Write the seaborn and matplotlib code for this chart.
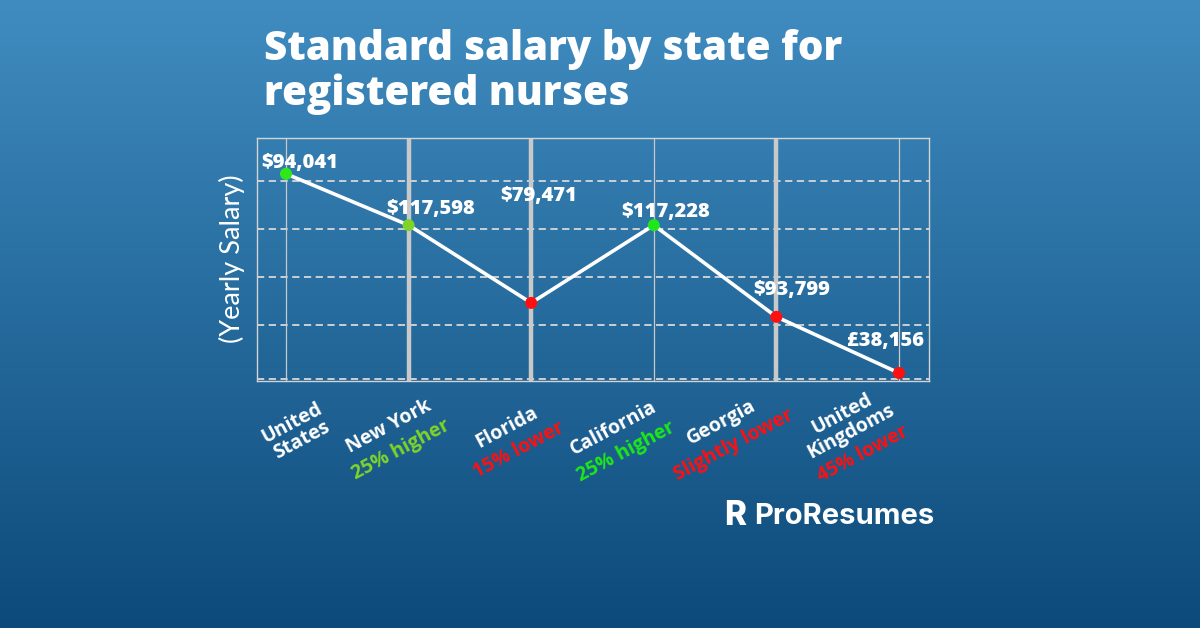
import matplotlib
matplotlib.use("Agg")
import matplotlib.pyplot as plt
import numpy as np
import pandas as pd
import seaborn as sns

# data
states = ["United States", "New York", "Florida", "California", "Georgia", "United Kingdom"]
tick_names = ["United\nStates", "New York", "Florida", "California", "Georgia", "United\nKingdoms"]
tick_notes = ["", "25% higher", "15% lower", "25% higher", "Slightly lower", "45% lower"]
salary_labels = ["$94,041", "$117,598", "$79,471", "$117,228", "$93,799", "£38,156"]
plot_level = [4.15, 3.08, 1.46, 3.08, 1.17, 0.0]   # vertical position of each point as drawn
trend = ["base", "higher_ny", "lower", "higher", "lower", "lower"]

palette = {"base": "#2ee81a", "higher_ny": "#7fd42a", "higher": "#1ee81a", "lower": "#ff1010"}
note_colors = ["white", "#7fd42a", "#ff1010", "#1ee81a", "#ff1010", "#ff1010"]

df = pd.DataFrame({"x": range(len(states)), "level": plot_level, "trend": trend})

sns.set_style("white")
plt.rcParams["font.family"] = ["Open Sans", "DejaVu Sans"]

W, H = 1200, 628
fig = plt.figure(figsize=(W / 100, H / 100), dpi=100)

# gradient background
bg = fig.add_axes([0, 0, 1, 1], zorder=-10)
top = np.array([64, 140, 192]) / 255
bot = np.array([12, 74, 122]) / 255
t = np.linspace(0, 1, 256)[:, None]
grad = top * (1 - t) + bot * t
bg.imshow(grad[:, None, :].repeat(2, axis=1), aspect="auto", extent=[0, 1, 0, 1])
bg.set_axis_off()

# main plot area (pixel box 257..929 x 138..381)
ax = fig.add_axes([257 / W, 1 - 381 / H, (929 - 257) / W, (381 - 138) / H])
ax.patch.set_alpha(0)
ax.set_xlim(-0.2365, 5.245)
ax.set_ylim(-0.167, 4.896)

for s in ax.spines.values():
    s.set_color("#d4d4d4")
    s.set_linewidth(1.0)

grid_kw = dict(color="#d8d8d8", linewidth=1.3, linestyle=(0, (4, 2.5)), zorder=1)
for g in [1, 2, 3, 4, -0.135]:
    ax.axhline(g, **grid_kw)

thick = [False, True, True, False, True, False]
for i, th in enumerate(thick):
    ax.axvline(i, color="#c9c9c9", linewidth=3.2 if th else 0.9, zorder=1)

sns.lineplot(data=df, x="x", y="level", color="white", linewidth=2.6, ax=ax, zorder=3)
sns.scatterplot(data=df, x="x", y="level", hue="trend", palette=palette, s=75,
                edgecolor="none", legend=False, ax=ax, zorder=4)

ax.set_xticks([])
ax.set_yticks([])
ax.set_xlabel("")
ax.set_ylabel("")

# value labels (offsets in pixels from the point)
label_off = [(14, 11), (22, 16), (8, 107), (12, 13), (15, 27), (-13, 32)]
for i, lab in enumerate(salary_labels):
    ax.annotate(lab, (i, plot_level[i]), xytext=label_off[i], textcoords="offset pixels",
                ha="center", va="center", color="white", fontsize=14.5, fontweight="heavy")

# category labels under the axis
rot = 28
gap = 3
gx, gy = gap * np.sin(np.radians(rot)), -gap * np.cos(np.radians(rot))
tick_off = [(11, -51), (-14, -57), (-18, -58), (-34, -59), (-49, -53), (-42, -62)]
for i, name in enumerate(tick_names):
    note = tick_notes[i]
    dx, dy = tick_off[i]
    ax.annotate(name, (i, 0), xycoords=("data", "axes fraction"),
                xytext=(dx - gx, dy - gy) if note else (dx, dy),
                textcoords="offset pixels", ha="center", va="bottom" if note else "center",
                rotation=rot, rotation_mode="anchor", color="white", fontsize=14,
                fontweight="bold", linespacing=0.95, annotation_clip=False)
    if note:
        ax.annotate(note, (i, 0), xycoords=("data", "axes fraction"), xytext=(dx + gx, dy + gy),
                    textcoords="offset pixels", ha="center", va="top",
                    rotation=rot, rotation_mode="anchor", color=note_colors[i], fontsize=14,
                    fontweight="bold", annotation_clip=False)

# titles
fig.text(264 / W, 1 - 29 / H, "Standard salary by state for\nregistered nurses", ha="left", va="top",
         color="white", fontsize=29, fontweight="heavy", linespacing=1.12)
fig.text(232 / W, 1 - 259 / H, "(Yearly Salary)", rotation=90, ha="center", va="center",
         color="white", fontsize=19.5, fontweight="normal", family=["Lato", "DejaVu Sans"])

# logo
fig.text(724 / W, 1 - 516 / H, "R", ha="left", va="center", color="white", fontsize=24,
         fontweight="heavy", family=["Inter", "DejaVu Sans"])
fig.text(754 / W, 1 - 517 / H, "ProResumes", ha="left", va="center", color="white", fontsize=21,
         fontweight="bold", family=["Inter", "DejaVu Sans"])

fig.savefig("out.png", dpi=100)
